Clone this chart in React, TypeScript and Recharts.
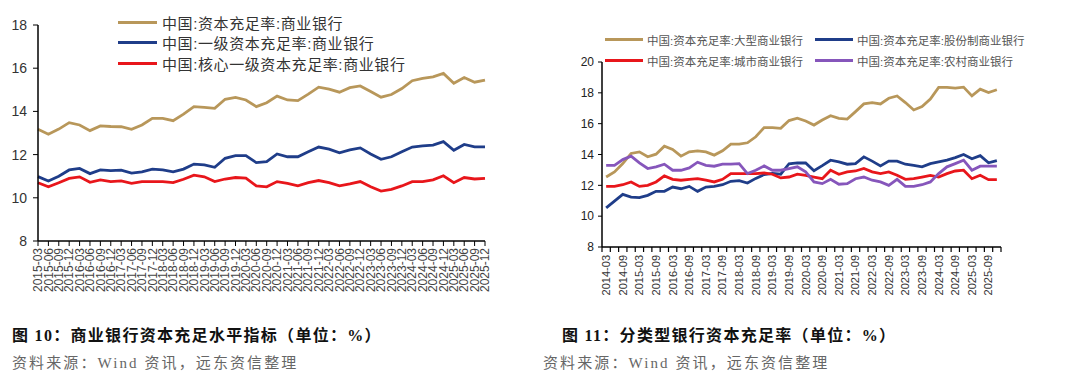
import {Legend, Line, LineChart, XAxis, YAxis} from "recharts";

// 图10：商业银行资本充足水平指标（季度）
const leftQuarters = [
	"2015-03", "2015-06", "2015-09", "2015-12", "2016-03", "2016-06", "2016-09", "2016-12",
	"2017-03", "2017-06", "2017-09", "2017-12", "2018-03", "2018-06", "2018-09", "2018-12",
	"2019-03", "2019-06", "2019-09", "2019-12", "2020-03", "2020-06", "2020-09", "2020-12",
	"2021-03", "2021-06", "2021-09", "2021-12", "2022-03", "2022-06", "2022-09", "2022-12",
	"2023-03", "2023-06", "2023-09", "2023-12", "2024-03", "2024-06", "2024-09", "2024-12",
	"2025-03", "2025-06", "2025-09", "2025-12",
];
const carAll = [
	13.17, 12.94, 13.18, 13.48, 13.37, 13.11, 13.33, 13.30, 13.29, 13.17,
	13.37, 13.68, 13.68, 13.57, 13.87, 14.22, 14.19, 14.14, 14.56, 14.65,
	14.53, 14.22, 14.40, 14.71, 14.53, 14.50, 14.80, 15.12, 15.03, 14.89,
	15.10, 15.18, 14.92, 14.66, 14.78, 15.06, 15.42, 15.53, 15.60, 15.76,
	15.30, 15.57, 15.35, 15.45,
];
const tier1All = [
	10.98, 10.78, 11.00, 11.29, 11.36, 11.12, 11.29, 11.26, 11.28, 11.14,
	11.20, 11.33, 11.29, 11.20, 11.33, 11.56, 11.52, 11.41, 11.83, 11.95,
	11.95, 11.63, 11.67, 12.03, 11.90, 11.90, 12.13, 12.35, 12.25, 12.08,
	12.22, 12.31, 12.03, 11.78, 11.90, 12.13, 12.35, 12.40, 12.44, 12.60,
	12.20, 12.47, 12.36, 12.36,
];
const coreTier1All = [
	10.70, 10.51, 10.70, 10.90, 10.97, 10.72, 10.83, 10.75, 10.78, 10.67,
	10.75, 10.75, 10.75, 10.70, 10.86, 11.05, 10.97, 10.75, 10.87, 10.94,
	10.91, 10.55, 10.51, 10.75, 10.67, 10.55, 10.70, 10.80, 10.70, 10.55,
	10.64, 10.75, 10.51, 10.31, 10.39, 10.55, 10.75, 10.75, 10.83, 11.02,
	10.70, 10.94, 10.87, 10.90,
];

// 图11：分类型银行资本充足率
const rightQuarters = [
	"2014-03", "2014-06", "2014-09", "2014-12", "2015-03", "2015-06", "2015-09", "2015-12",
	"2016-03", "2016-06", "2016-09", "2016-12", "2017-03", "2017-06", "2017-09", "2017-12",
	"2018-03", "2018-06", "2018-09", "2018-12", "2019-03", "2019-06", "2019-09", "2019-12",
	"2020-03", "2020-06", "2020-09", "2020-12", "2021-03", "2021-06", "2021-09", "2021-12",
	"2022-03", "2022-06", "2022-09", "2022-12", "2023-03", "2023-06", "2023-09", "2023-12",
	"2024-03", "2024-06", "2024-09", "2024-12", "2025-03", "2025-06", "2025-09", "2025-12",
];
const carLarge = [
	12.54, 12.87, 13.41, 14.07, 14.17, 13.85, 14.02, 14.54, 14.33, 13.89,
	14.17, 14.24, 14.17, 13.96, 14.24, 14.67, 14.67, 14.76, 15.15, 15.74,
	15.74, 15.70, 16.20, 16.35, 16.17, 15.91, 16.24, 16.52, 16.35, 16.30,
	16.78, 17.28, 17.37, 17.28, 17.65, 17.80, 17.37, 16.89, 17.11, 17.59,
	18.35, 18.35, 18.30, 18.37, 17.80, 18.24, 18.02, 18.20,
];
const carJointStock = [
	10.54, 10.98, 11.41, 11.24, 11.20, 11.35, 11.61, 11.61, 11.89, 11.78,
	11.93, 11.61, 11.89, 11.93, 12.04, 12.26, 12.30, 12.15, 12.45, 12.70,
	12.78, 12.72, 13.40, 13.45, 13.45, 12.95, 13.28, 13.63, 13.52, 13.37,
	13.41, 13.85, 13.57, 13.26, 13.57, 13.57, 13.37, 13.30, 13.20, 13.41,
	13.52, 13.63, 13.80, 14.00, 13.72, 13.93, 13.46, 13.60,
];
const carCity = [
	11.93, 11.93, 12.04, 12.22, 11.93, 12.00, 12.22, 12.61, 12.39, 12.33,
	12.39, 12.43, 12.33, 12.22, 12.39, 12.76, 12.76, 12.76, 12.76, 12.80,
	12.72, 12.48, 12.54, 12.72, 12.65, 12.54, 12.43, 12.98, 12.72, 12.87,
	12.93, 13.09, 12.87, 12.76, 12.87, 12.65, 12.39, 12.43, 12.54, 12.65,
	12.54, 12.76, 12.93, 12.98, 12.43, 12.65, 12.37, 12.37,
];
const carRural = [
	13.30, 13.30, 13.67, 13.89, 13.46, 13.09, 13.20, 13.37, 12.98, 12.98,
	13.13, 13.50, 13.30, 13.24, 13.37, 13.37, 13.41, 12.76, 12.98, 13.26,
	12.98, 12.98, 13.09, 13.20, 12.87, 12.22, 12.11, 12.39, 12.07, 12.11,
	12.43, 12.54, 12.33, 12.22, 12.00, 12.39, 11.93, 11.93, 12.04, 12.22,
	12.76, 13.20, 13.41, 13.63, 12.98, 13.24, 13.24, 13.24,
];

const leftTicks = [8, 10, 12, 14, 16, 18];
const rightTicks = [8, 10, 12, 14, 16, 18, 20];

const GOLD = "#b8975a";
const NAVY = "#1f3d89";
const RED = "#e8161b";
const PURPLE = "#8656bb";

const SANS = "Arial, 'Liberation Sans', sans-serif";
const CJK = "Arial, 'Noto Sans CJK SC', sans-serif";
const SERIF = "'Liberation Serif', 'Noto Sans CJK SC', serif";

const leftSeries = [
	{key: "all", name: "中国:资本充足率:商业银行", color: GOLD},
	{key: "tier1", name: "中国:一级资本充足率:商业银行", color: NAVY},
	{key: "core", name: "中国:核心一级资本充足率:商业银行", color: RED},
];
const rightSeries = [
	{key: "large", name: "中国:资本充足率:大型商业银行", color: GOLD},
	{key: "joint", name: "中国:资本充足率:股份制商业银行", color: NAVY},
	{key: "city", name: "中国:资本充足率:城市商业银行", color: RED},
	{key: "rural", name: "中国:资本充足率:农村商业银行", color: PURPLE},
];

const leftData = leftQuarters.map((q, i) => ({
	q,
	all: carAll[i],
	tier1: tier1All[i],
	core: coreTier1All[i],
}));

const rightData = rightQuarters.map((q, i) => ({
	i,
	large: carLarge[i],
	joint: carJointStock[i],
	city: carCity[i],
	rural: carRural[i],
}));

// category boundaries get a tick mark, every other category centre gets a label
const rightAxisTicks: number[] = [];
for (let k = 0; k <= rightQuarters.length; k++) {
	rightAxisTicks.push(k - 0.5);
	if (k < rightQuarters.length && k % 2 === 0) rightAxisTicks.push(k);
}

function LeftTick({x, y, payload}: any) {
	return (
		<text x={x} y={y} transform={`rotate(-90, ${x}, ${y})`} textAnchor="end" dy="0.35em"
		      fontSize={12} fill="#444" fontFamily={SANS}>
			{payload.value}
		</text>
	);
}

function RightTick({x, y, payload}: any) {
	const v = payload.value;
	if (Number.isInteger(v)) {
		return (
			<text x={x} y={y + 8} transform={`rotate(-90, ${x}, ${y + 8})`} textAnchor="end" dy="0.35em"
			      fontSize={11} fill="#333" fontFamily={SANS}>
				{rightQuarters[v]}
			</text>
		);
	}
	return <line x1={x} x2={x} y1={y} y2={y + 5} stroke="#000" strokeWidth={1.2}/>;
}

function LeftLegend() {
	return (
		<div style={{fontFamily: CJK, fontSize: 15, color: "#333"}}>
			{leftSeries.map((s) => (
				<div key={s.key} style={{display: "flex", alignItems: "center", height: 20.5}}>
					<span style={{width: 39, height: 3, background: s.color, marginRight: 5}}/>
					<span style={{letterSpacing: 0.6}}>{s.name}</span>
				</div>
			))}
		</div>
	);
}

function RightLegend() {
	return (
		<div style={{fontFamily: CJK, fontSize: 11.5, color: "#555", display: "grid",
			gridTemplateColumns: "210px 220px"}}>
			{rightSeries.map((s) => (
				<div key={s.key} style={{display: "flex", alignItems: "center", height: 21}}>
					<span style={{width: 38, height: 3, background: s.color, marginRight: 4}}/>
					<span>{s.name}</span>
				</div>
			))}
		</div>
	);
}

const captionStyle = {
	position: "absolute" as const,
	fontFamily: SERIF,
	fontWeight: 700,
	fontSize: 16,
	letterSpacing: 1.3,
	color: "#111",
	whiteSpace: "nowrap" as const,
};
const sourceStyle = {
	position: "absolute" as const,
	fontFamily: SERIF,
	fontSize: 15,
	letterSpacing: 2.1,
	color: "#666",
	whiteSpace: "nowrap" as const,
};

export default function App() {
	return (
		<div style={{position: "absolute", left: 0, top: 0, width: 1080, height: 377, background: "#fff",
			overflow: "hidden"}}>
			<div style={{position: "absolute", left: 0, top: 0}}>
				<LineChart width={500} height={310} data={leftData} margin={{top: 25, right: 15, left: 0, bottom: 0}}>
					<XAxis dataKey="q" scale="point" interval={0} height={69} tickSize={5} tickMargin={2}
					       axisLine={{stroke: "#000", strokeWidth: 1.5}} tickLine={{stroke: "#000"}}
					       tick={<LeftTick/>}/>
					<YAxis domain={[8, 18]} ticks={leftTicks} width={38} tickSize={5} tickMargin={6}
					       axisLine={{stroke: "#000", strokeWidth: 1.5}} tickLine={{stroke: "#000"}}
					       tick={{fontSize: 14, fill: "#333", fontFamily: SANS}}/>
					<Legend layout="vertical" align="center" verticalAlign="middle" content={<LeftLegend/>}
					        wrapperStyle={{top: 12, left: 118, width: 360}}/>
					{leftSeries.map((s) => (
						<Line key={s.key} dataKey={s.key} name={s.name} stroke={s.color} strokeWidth={2.8}
						      dot={false} isAnimationActive={false}/>
					))}
				</LineChart>
			</div>

			<div style={{position: "absolute", left: 562, top: 0}}>
				<LineChart width={450} height={310} data={rightData} margin={{top: 62, right: 11, left: 0, bottom: 0}}>
					<XAxis dataKey="i" type="number" domain={[-0.5, rightQuarters.length - 0.5]}
					       ticks={rightAxisTicks} interval={0} height={63} tickSize={0} tickMargin={0}
					       axisLine={{stroke: "#000", strokeWidth: 1.5}} tickLine={false} tick={<RightTick/>}/>
					<YAxis domain={[8, 20]} ticks={rightTicks} width={40} tickSize={4} tickMargin={4}
					       axisLine={{stroke: "#000", strokeWidth: 1.5}} tickLine={{stroke: "#000"}}
					       tick={{fontSize: 12, fill: "#222", fontFamily: SANS}}/>
					<Legend layout="vertical" align="center" verticalAlign="middle" content={<RightLegend/>}
					        wrapperStyle={{top: 29, left: 43, width: 440}}/>
					{rightSeries.map((s) => (
						<Line key={s.key} dataKey={s.key} name={s.name} stroke={s.color} strokeWidth={2.8}
						      dot={false} isAnimationActive={false}/>
					))}
				</LineChart>
			</div>

			<div style={{...captionStyle, left: 12, top: 322}}>图 10：商业银行资本充足水平指标（单位：%）</div>
			<div style={{...sourceStyle, left: 12, top: 351}}>资料来源：Wind 资讯，远东资信整理</div>
			<div style={{...captionStyle, left: 562, top: 322}}>图 11：分类型银行资本充足率（单位：%）</div>
			<div style={{...sourceStyle, left: 543, top: 351}}>资料来源：Wind 资讯，远东资信整理</div>
		</div>
	);
}
